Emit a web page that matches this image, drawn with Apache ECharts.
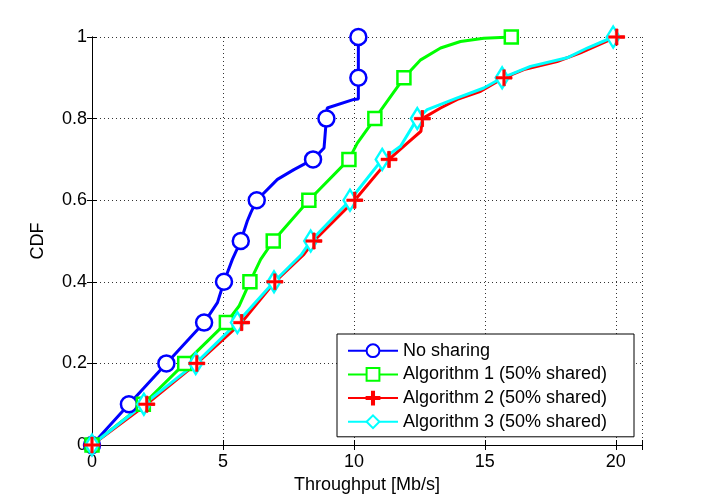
<!DOCTYPE html>
<html>
<head>
<meta charset="utf-8">
<script src="https://cdn.jsdelivr.net/npm/echarts@6/dist/echarts.min.js"></script>
<style>
  html, body { margin: 0; padding: 0; background: #fff; }
  #chart { width: 708px; height: 502px; }
</style>
</head>
<body>
<div id="chart"></div>
<script>
// CDF levels where markers are drawn
const cdfLevels = [0, 0.1, 0.2, 0.3, 0.4, 0.5, 0.6, 0.7, 0.8, 0.9, 1.0]

// throughput (Mb/s) at each CDF level
const noSharingX = [0, 1.41, 2.84, 4.28, 5.04, 5.68, 6.29, 8.44, 8.95, 10.17, 10.17]
const algo1X = [0, 1.96, 3.54, 5.13, 6.03, 6.92, 8.28, 9.81, 10.8, 11.91, 16.01]
const algo2X = [0, 2.09, 4.0, 5.71, 6.98, 8.47, 10.03, 11.34, 12.61, 15.73, 20.03]
const algo3X = [0, 1.98, 3.96, 5.55, 6.95, 8.35, 9.85, 11.08, 12.42, 15.66, 19.9]

// extra curve points between markers [x, cdf]
const noSharingBends = [[4.79, 0.349], [5.36, 0.455], [5.93, 0.549], [6.06, 0.569], [7.08, 0.651], [7.71, 0.675], [8.86, 0.728], [8.92, 0.73], [8.98, 0.826], [10.0, 0.847], [10.17, 0.848]]
const algo1Bends = [[5.61, 0.34], [6.44, 0.455], [10.13, 0.74], [12.55, 0.944], [13.31, 0.973], [14.07, 0.989], [14.96, 0.997]]
const algo2Bends = [[8.09, 0.467], [12.04, 0.74], [12.56, 0.769], [13.31, 0.826], [13.95, 0.847], [14.84, 0.867], [16.49, 0.92], [17.76, 0.94], [18.65, 0.961]]
const algo3Bends = [[8.0, 0.467], [11.78, 0.732], [12.8, 0.822], [13.95, 0.851], [14.96, 0.875], [16.74, 0.928], [18.14, 0.949], [18.91, 0.973]]

const names = ['No sharing', 'Algorithm 1 (50% shared)', 'Algorithm 2 (50% shared)', 'Algorithm 3 (50% shared)']
const colors = ['#0000ff', '#00ff00', '#ff0000', '#00ffff']

const font = "'Liberation Sans', Arial, Helvetica, sans-serif"
const fontSize = 18
const plusPath = 'path://M4.2,0H5.8V4.2H10V5.8H5.8V10H4.2V5.8H0V4.2H4.2Z'

const buildData = (xs, bends) => {
  const pts = xs.map((x, i) => ({ value: [x, cdfLevels[i]] }))
  bends.forEach(b => pts.push({ value: b, symbol: 'none' }))
  pts.sort((a, b) => a.value[1] - b.value[1])
  return pts
}

const makeSeries = (idx, xs, bends, symbol, size, border) => ({
  name: names[idx],
  type: 'line',
  data: buildData(xs, bends),
  symbol: symbol,
  symbolSize: size,
  showAllSymbol: true,
  lineStyle: { color: colors[idx], width: 3 },
  itemStyle: { color: idx === 2 ? colors[idx] : '#fff', borderColor: colors[idx], borderWidth: border },
  emphasis: { disabled: true },
  animation: false
})

const chart = echarts.init(document.getElementById('chart'))

const hiddenAxis = {
  min: 0,
  axisLine: { show: true, lineStyle: { color: '#000', width: 1 } },
  axisTick: { show: true, inside: true, length: 5, lineStyle: { color: '#000' } },
  axisLabel: { show: false },
  splitLine: { show: false }
}

const option = {
  backgroundColor: '#fff',
  textStyle: { fontFamily: font },
  grid: { left: 92, right: 66, top: 37, bottom: 57 },
  legend: {
    orient: 'vertical',
    left: 337,
    top: 334,
    data: names,
    itemWidth: 50,
    itemHeight: 16,
    itemGap: 5.7,
    padding: [7.7, 6, 6, 10],
    backgroundColor: '#fff',
    borderColor: '#000',
    borderWidth: 1,
    borderRadius: 0,
    textStyle: { fontSize: fontSize, lineHeight: 18, width: 225, color: '#000', fontFamily: font }
  },
  xAxis: [
    {
      type: 'value',
      min: 0,
      max: 21,
      interval: 5,
      name: 'Throughput [Mb/s]',
      nameLocation: 'middle',
      nameGap: 30,
      nameTextStyle: { fontSize: fontSize, color: '#000', fontFamily: font },
      axisLine: { show: true, onZero: false, lineStyle: { color: '#000', width: 1 } },
      axisTick: { show: true, inside: true, length: 5, lineStyle: { color: '#000' } },
      axisLabel: {
        fontSize: fontSize, color: '#000', margin: 8, fontFamily: font,
        formatter: v => (v % 5 === 0 ? String(v) : '')
      },
      splitLine: { show: true, lineStyle: { color: '#333', type: [1, 3], width: 1 } }
    },
    Object.assign({}, hiddenAxis, { type: 'value', position: 'top', max: 21, interval: 5 })
  ],
  yAxis: [
    {
      type: 'value',
      min: 0,
      max: 1,
      interval: 0.2,
      name: 'CDF',
      nameLocation: 'middle',
      nameGap: 45,
      nameTextStyle: { fontSize: fontSize, color: '#000', fontFamily: font },
      axisLine: { show: true, lineStyle: { color: '#000', width: 1 } },
      axisTick: { show: true, inside: true, length: 5, lineStyle: { color: '#000' } },
      axisLabel: { fontSize: fontSize, color: '#000', margin: 5, fontFamily: font },
      splitLine: { show: true, lineStyle: { color: '#333', type: [1, 3], width: 1 } }
    },
    Object.assign({}, hiddenAxis, { type: 'value', position: 'right', max: 1, interval: 0.2 })
  ],
  series: [
    makeSeries(0, noSharingX, noSharingBends, 'circle', 16, 2.5),
    makeSeries(1, algo1X, algo1Bends, 'rect', 13, 2.5),
    makeSeries(2, algo2X, algo2Bends, plusPath, 16, 0.5),
    makeSeries(3, algo3X, algo3Bends, 'diamond', [13, 21], 2.5),
    {
      // red markers again, on top of the cyan line
      name: 'algo2-markers',
      type: 'scatter',
      data: algo2X.map((x, i) => [x, cdfLevels[i]]),
      symbol: plusPath,
      symbolSize: 16,
      itemStyle: { color: colors[2], borderColor: colors[2], borderWidth: 0.5, opacity: 1 },
      z: 5,
      emphasis: { disabled: true },
      silent: true,
      animation: false
    }
  ]
}

chart.setOption(option)
</script>
</body>
</html>
